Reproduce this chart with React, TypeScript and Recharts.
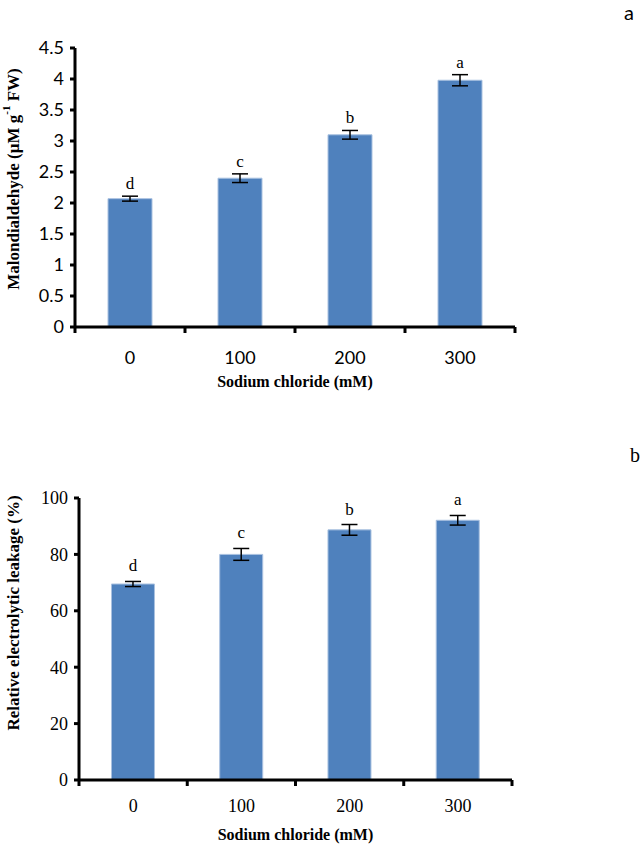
import { Bar, BarChart, ErrorBar, LabelList, XAxis, YAxis } from 'recharts'

const categories = ['0', '100', '200', '300']

const mdaValues = [2.07, 2.4, 3.1, 3.98]
const mdaErrors = [0.04, 0.07, 0.07, 0.09]
const mdaLetters = ['d', 'c', 'b', 'a']
const mdaTicks = [0, 0.5, 1, 1.5, 2, 2.5, 3, 3.5, 4, 4.5]

const relValues = [69.5, 80, 88.7, 92.1]
const relErrors = [0.9, 2.1, 1.9, 1.7]
const relLetters = ['d', 'c', 'b', 'a']
const relTicks = [0, 20, 40, 60, 80, 100]

const BLUE = '#4F81BD'
const SERIF = '"Liberation Serif", "Times New Roman", serif'
const SANS = 'Lato, "Open Sans", sans-serif'

function buildRows(values: number[], errors: number[], letters: string[]) {
  return categories.map((c, i) => ({ cat: c, value: values[i], err: errors[i], letter: letters[i] }))
}

function CategoryTick(props: any) {
  const { x, y, payload, index, width, visibleTicksCount, font, labelOffset } = props
  const band = width / visibleTicksCount
  const last = index === visibleTicksCount - 1
  return (
    <g>
      <line x1={x - band / 2} x2={x - band / 2} y1={y} y2={y + 6} stroke="#000" strokeWidth={3} />
      {last && <line x1={x + band / 2} x2={x + band / 2} y1={y} y2={y + 6} stroke="#000" strokeWidth={3} />}
      <text x={x} y={y + labelOffset} textAnchor="middle" dominantBaseline="central" fontFamily={font} fontSize={18} fill="#000">
        {payload.value}
      </text>
    </g>
  )
}

function letterLabel(errors: number[], letters: string[], gap: number) {
  return (props: any) => {
    const { x, y, width, height, value, index } = props
    const pxPerUnit = height / value
    const top = y - errors[index] * pxPerUnit
    return (
      <text x={x + width / 2} y={top - gap} textAnchor="middle" fontFamily={SERIF} fontSize={17} fill="#000">
        {letters[index]}
      </text>
    )
  }
}

export default function App() {
  const mdaRows = buildRows(mdaValues, mdaErrors, mdaLetters)
  const relRows = buildRows(relValues, relErrors, relLetters)

  return (
    <div style={{ position: 'absolute', left: 0, top: 0, width: 644, height: 846, background: '#fff' }}>
      <div style={{ position: 'absolute', left: 0, top: 0 }}>
        <BarChart width={644} height={400} data={mdaRows} margin={{ top: 48, right: 129, left: 0, bottom: 13 }} barCategoryGap="30%">
          <XAxis
            dataKey="cat"
            height={60}
            axisLine={{ stroke: '#000', strokeWidth: 3 }}
            tickLine={false}
            tickSize={0}
            tickMargin={0}
            interval={0}
            tick={<CategoryTick font={SANS} labelOffset={30} />}
            label={{ value: 'Sodium chloride (mM)', position: 'insideBottom', offset: 0, fontFamily: SERIF, fontWeight: 'bold', fontSize: 16, fill: '#000' }}
          />
          <YAxis
            width={75}
            domain={[0, 4.5]}
            ticks={mdaTicks}
            interval={0}
            axisLine={{ stroke: '#000', strokeWidth: 3 }}
            tickLine={{ stroke: '#000', strokeWidth: 3 }}
            tickSize={5}
            tickMargin={6}
            tick={{ fontFamily: SANS, fontSize: 18, fill: '#000' }}
            label={{
              content: () => (
                <text transform="translate(13,179) rotate(-90)" textAnchor="middle" dominantBaseline="central" fontFamily={SERIF} fontWeight="bold" fontSize={17} fill="#000">
                  Malondialdehyde (µM g<tspan dy={-7} fontSize={11}>-1</tspan>
                  <tspan dy={7}> FW)</tspan>
                </text>
              ),
            }}
          />
          <Bar dataKey="value" fill={BLUE} stroke="#A9C1E0" strokeWidth={1} isAnimationActive={false}>
            <ErrorBar dataKey="err" width={8} stroke="#000" strokeWidth={1.5} />
            <LabelList dataKey="value" content={letterLabel(mdaErrors, mdaLetters, 7)} />
          </Bar>
        </BarChart>
      </div>
      <div style={{ position: 'absolute', left: 0, top: 430 }}>
        <BarChart width={644} height={416} data={relRows} margin={{ top: 68, right: 132, left: 0, bottom: 6 }} barCategoryGap="30%">
          <XAxis
            dataKey="cat"
            height={60}
            axisLine={{ stroke: '#000', strokeWidth: 3 }}
            tickLine={false}
            tickSize={0}
            tickMargin={0}
            interval={0}
            tick={<CategoryTick font={SERIF} labelOffset={26} />}
            label={{ value: 'Sodium chloride (mM)', position: 'insideBottom', offset: 0, fontFamily: SERIF, fontWeight: 'bold', fontSize: 16, fill: '#000' }}
          />
          <YAxis
            width={79}
            domain={[0, 100]}
            ticks={relTicks}
            interval={0}
            axisLine={{ stroke: '#000', strokeWidth: 3 }}
            tickLine={{ stroke: '#000', strokeWidth: 3 }}
            tickSize={5}
            tickMargin={6}
            tick={{ fontFamily: SERIF, fontSize: 18, fill: '#000' }}
            label={{
              content: () => (
                <text transform="translate(13,183) rotate(-90)" textAnchor="middle" dominantBaseline="central" fontFamily={SERIF} fontWeight="bold" fontSize={17} fill="#000">
                  Relative electrolytic leakage (%)
                </text>
              ),
            }}
          />
          <Bar dataKey="value" fill={BLUE} stroke="#A9C1E0" strokeWidth={1} isAnimationActive={false}>
            <ErrorBar dataKey="err" width={8} stroke="#000" strokeWidth={1.5} />
            <LabelList dataKey="value" content={letterLabel(relErrors, relLetters, 10)} />
          </Bar>
        </BarChart>
      </div>
      <div style={{ position: 'absolute', left: 624, top: 2, fontFamily: SANS, fontSize: 20, lineHeight: 1 }}>a</div>
      <div style={{ position: 'absolute', left: 630, top: 445, fontFamily: SERIF, fontSize: 20, lineHeight: 1 }}>b</div>
    </div>
  )
}
